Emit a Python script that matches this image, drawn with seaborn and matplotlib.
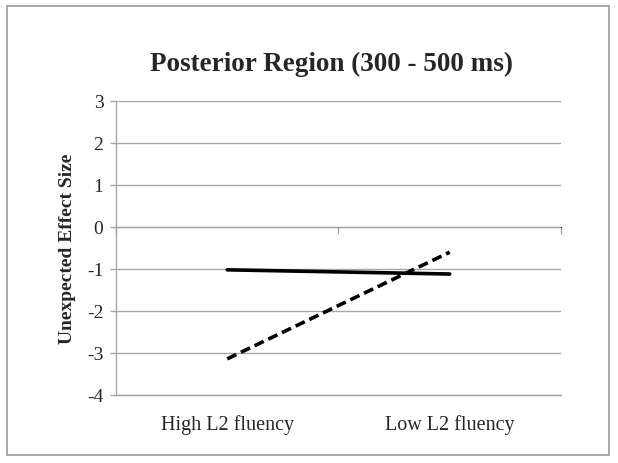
import numpy as np
import pandas as pd
import seaborn as sns
import matplotlib.pyplot as plt

# data
groups = ['High L2 fluency', 'Low L2 fluency']
solid_vals = [-1.02, -1.12]
dashed_vals = [-3.14, -0.60]
series = ['solid', 'dashed']

df = pd.DataFrame({
    'group': groups * 2,
    'value': solid_vals + dashed_vals,
    'series': [series[0]] * 2 + [series[1]] * 2,
})

sns.set_style('white')
plt.rcParams['font.family'] = ['Liberation Serif', 'DejaVu Serif']
plt.rcParams['axes.unicode_minus'] = False

grid_col = '#a6a6a6'

fig = plt.figure(figsize=(6.18, 4.64), dpi=100)
ax = fig.add_axes([0.1877, 0.1466, 0.72, 0.6336])

sns.lineplot(data=df, x='group', y='value', style='series', color='black',
             dashes={'solid': '', 'dashed': (2.8, 1.4)}, linewidth=2.6,
             legend=False, ax=ax, sort=False)

ax.set_xlim(-0.5, 1.5)
ax.set_ylim(-4, 3)
ax.set_yticks(range(-4, 4))
ax.yaxis.grid(True, color=grid_col, linewidth=1)
ax.set_axisbelow(True)

for s in ['top', 'right']:
    ax.spines[s].set_visible(False)
for s in ['left', 'bottom']:
    ax.spines[s].set_color(grid_col)
    ax.spines[s].set_linewidth(1)

ax.tick_params(axis='y', direction='out', length=4, color=grid_col, width=1,
               labelsize=14, pad=5, left=True)
ax.tick_params(axis='x', length=0, labelsize=14.5, pad=14)

# category axis crossing at zero
sec = ax.secondary_xaxis(4 / 7)
sec.set_xticks([-0.5, 0.5, 1.5])
sec.set_xticklabels([])
sec.tick_params(direction='in', length=5, color=grid_col, width=1)
sec.spines['bottom'].set_color(grid_col)
sec.spines['bottom'].set_linewidth(1)

ax.set_xlabel('')
ax.set_ylabel('Unexpected Effect Size', fontsize=14, fontweight='bold', labelpad=8)
fig.text(0.5365, 0.862, 'Posterior Region (300 - 500 ms)', ha='center', va='center',
         fontsize=19.5, fontweight='bold')

# outer chart border
fig.add_artist(plt.Rectangle((0.011, 0.017), 0.975, 0.968, transform=fig.transFigure,
                             fill=False, edgecolor='#999999', linewidth=1.2))

plt.savefig('out.png', dpi=100)
